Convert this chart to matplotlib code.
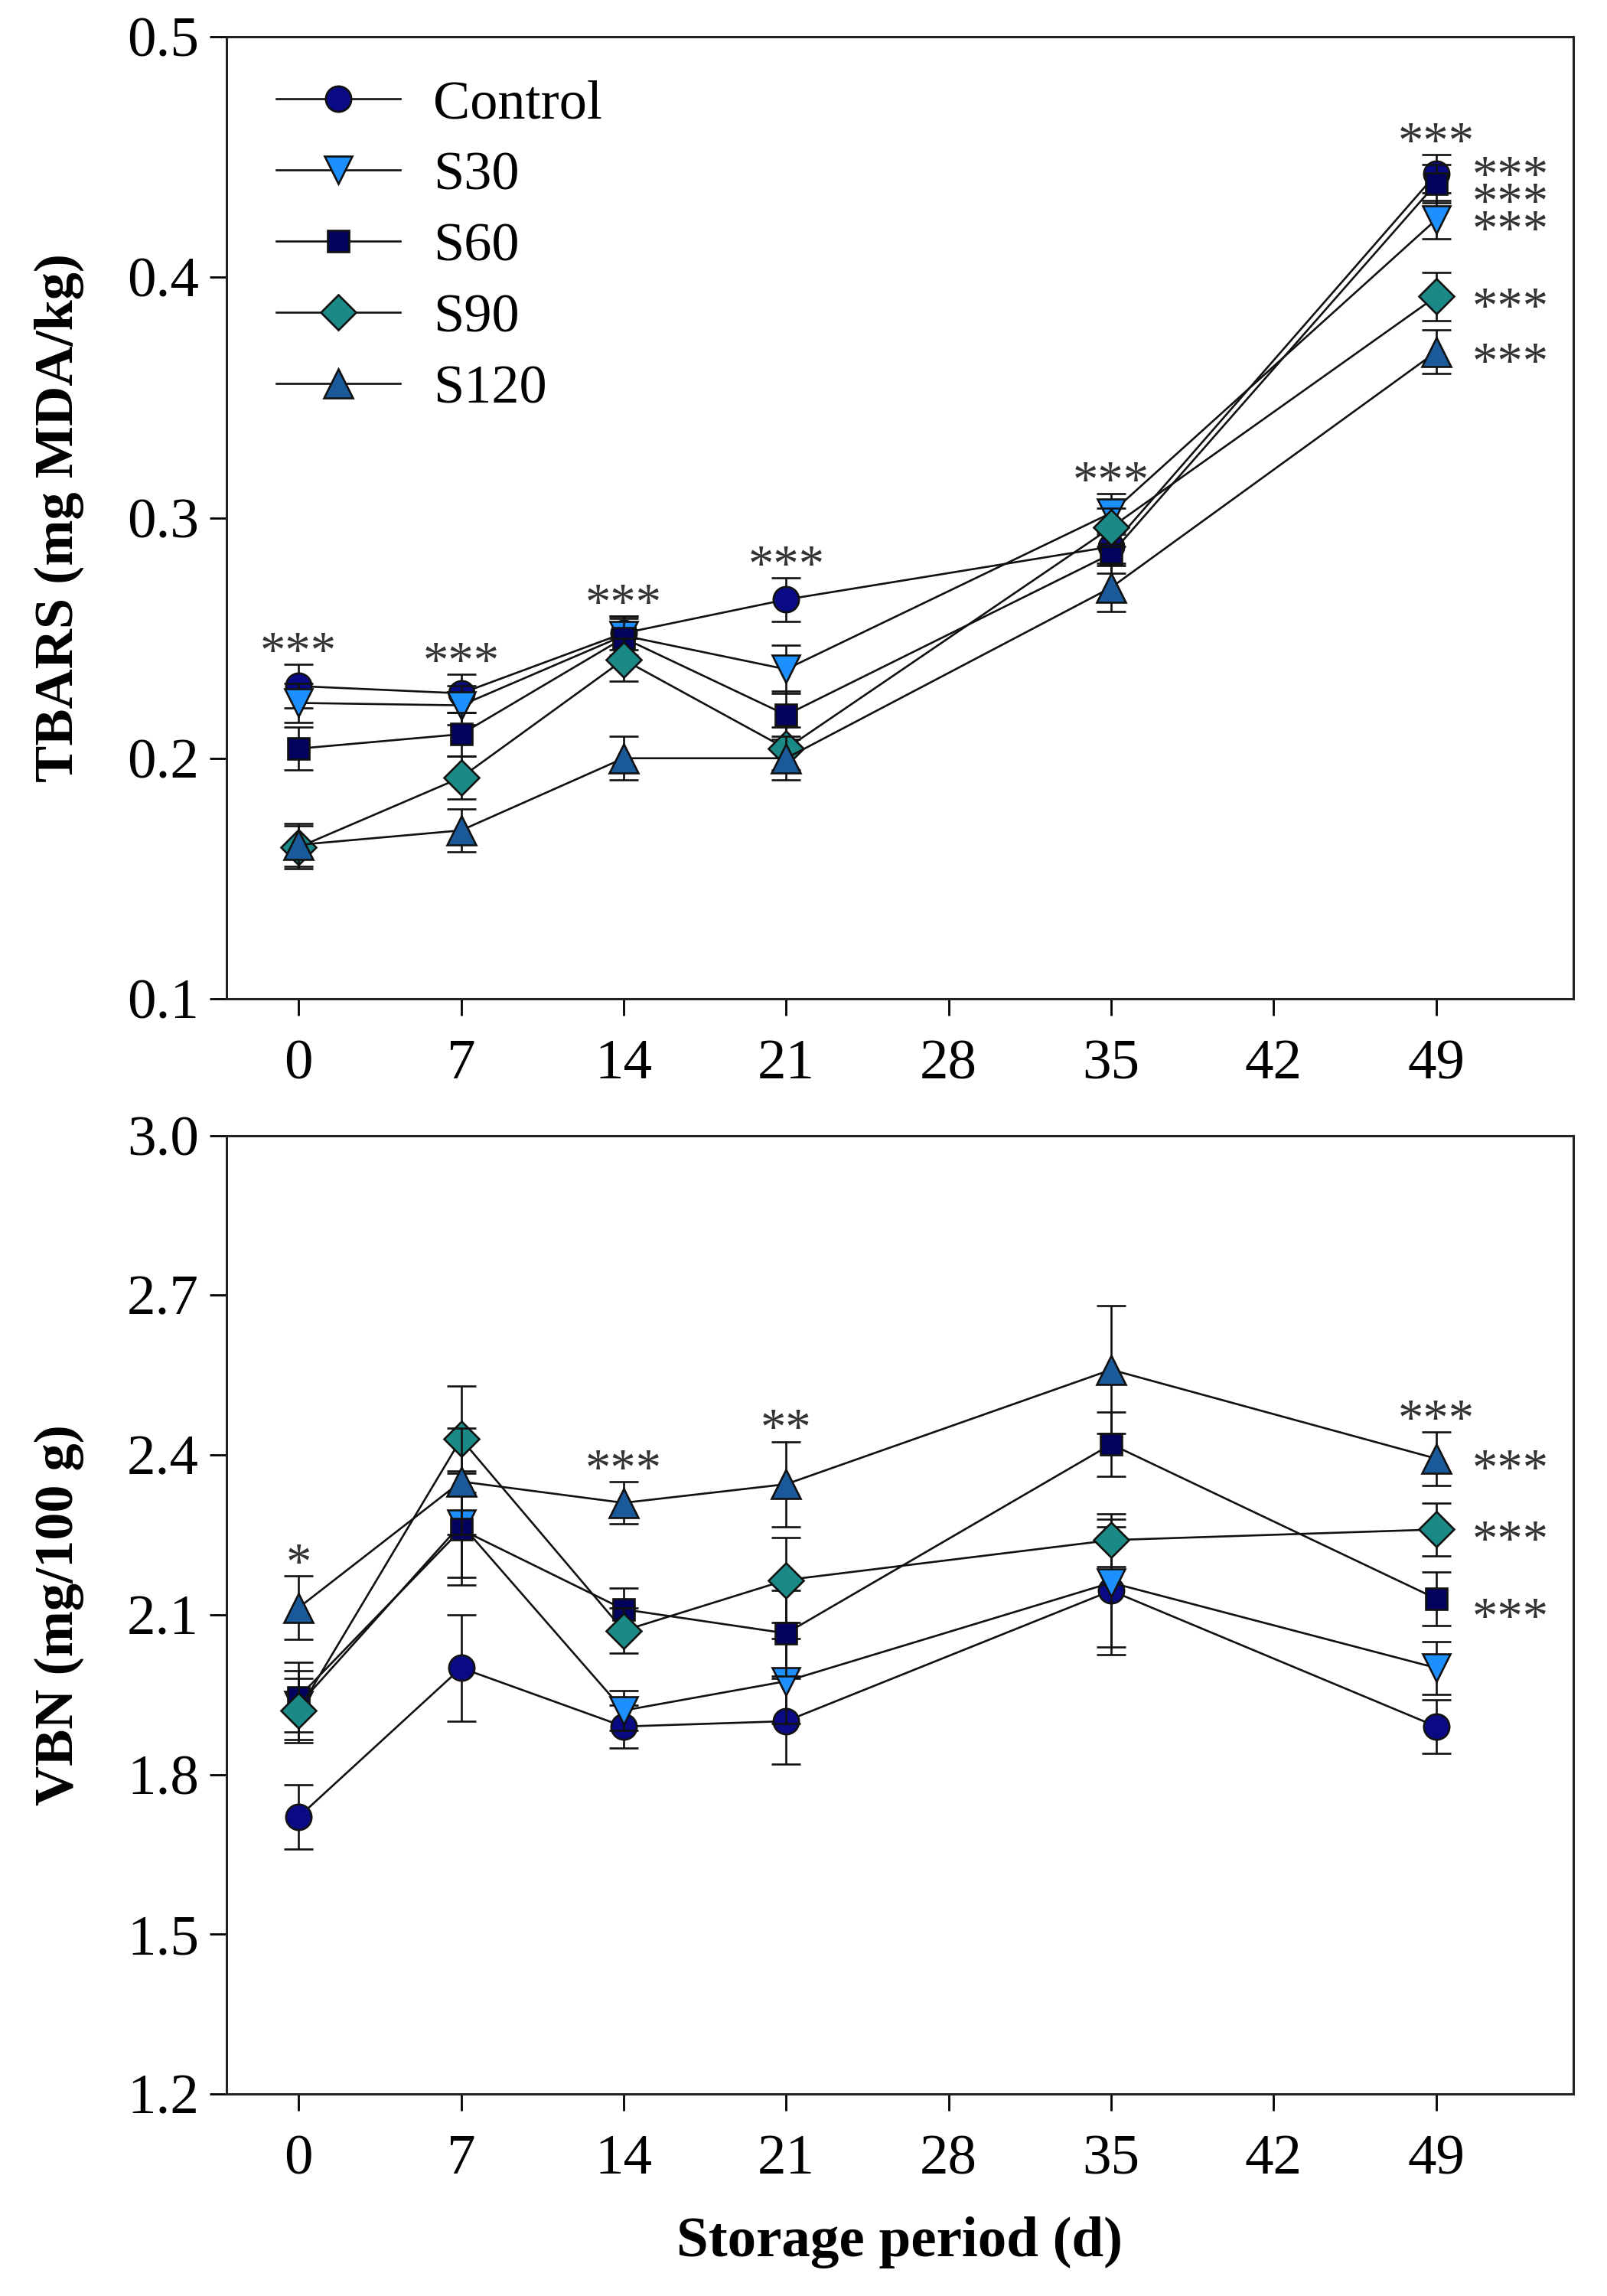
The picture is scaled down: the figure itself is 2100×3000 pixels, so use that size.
import matplotlib
matplotlib.use("Agg")
import matplotlib.pyplot as plt

plt.rcParams["font.family"] = ["Liberation Serif", "DejaVu Serif"]
plt.rcParams["mathtext.default"] = "regular"

# storage days and groups
days = [0, 7, 14, 21, 35, 49]
groups = ["Control", "S30", "S60", "S90", "S120"]

# TBARS (mg MDA/kg), means and error bars
tbars_control = [0.230, 0.227, 0.252, 0.266, 0.288, 0.443]
tbars_s30 = [0.223, 0.222, 0.251, 0.237, 0.302, 0.424]
tbars_s60 = [0.204, 0.210, 0.250, 0.218, 0.285, 0.439]
tbars_s90 = [0.163, 0.192, 0.241, 0.204, 0.296, 0.392]
tbars_s120 = [0.164, 0.170, 0.200, 0.200, 0.271, 0.369]

tbars_control_err = [0.009, 0.008, 0.007, 0.009, 0.008, 0.008]
tbars_s30_err = [0.008, 0.008, 0.008, 0.010, 0.008, 0.008]
tbars_s60_err = [0.009, 0.009, 0.008, 0.010, 0.008, 0.008]
tbars_s90_err = [0.009, 0.009, 0.009, 0.009, 0.008, 0.010]
tbars_s120_err = [0.009, 0.009, 0.009, 0.009, 0.010, 0.009]

# VBN (mg/100 g), means and error bars
vbn_control = [1.72, 2.00, 1.89, 1.90, 2.145, 1.89]
vbn_s30 = [1.93, 2.27, 1.92, 1.975, 2.16, 2.00]
vbn_s60 = [1.945, 2.26, 2.11, 2.065, 2.42, 2.13]
vbn_s90 = [1.92, 2.43, 2.07, 2.165, 2.24, 2.26]
vbn_s120 = [2.113, 2.35, 2.31, 2.345, 2.56, 2.393]

vbn_control_err = [0.06, 0.10, 0.04, 0.08, 0.12, 0.05]
vbn_s30_err = [0.065, 0.10, 0.037, 0.08, 0.12, 0.05]
vbn_s60_err = [0.065, 0.105, 0.04, 0.08, 0.06, 0.05]
vbn_s90_err = [0.06, 0.10, 0.042, 0.08, 0.05, 0.05]
vbn_s120_err = [0.06, 0.10, 0.04, 0.08, 0.12, 0.05]

# significance marks above each day and right of the last day (per group)
tbars_sig_day = ["***", "***", "***", "***", "***", "***"]
tbars_sig_end = ["***", "***", "***", "***", "***"]
vbn_sig_day = ["*", "", "***", "**", "", "***"]
vbn_sig_end = ["", "", "***", "***", "***"]

colors = ["#0a0a84", "#1e8fff", "#03035f", "#1b8a86", "#1a5a9a"]
markers = ["o", "v", "s", "D", "^"]
msizes = [12, 13, 10, 11.5, 13.5]
end_nudge = {"Control": 4, "S60": -4}

TXT = "#333333"


def draw_panel(ax, means, errs, sig_day, sig_end, ylim, yticks, ylabel, fmt):
    handles = []
    for name, m, e, c, mk, ms in zip(groups, means, errs, colors, markers, msizes):
        ax.errorbar(days, m, yerr=e, fmt="none", ecolor="#111111",
                    elinewidth=0.95, capsize=7, capthick=0.95)
        line, = ax.plot(days, m, color="#111111", lw=0.95, marker=mk,
                        markersize=ms, markerfacecolor=c,
                        markeredgecolor="#111111", markeredgewidth=0.95,
                        label=name)
        handles.append(line)

    # stars above each day group
    for i, d in enumerate(days):
        if not sig_day[i]:
            continue
        top = max(m[i] + e[i] for m, e in zip(means, errs))
        ax.annotate(sig_day[i], (d, top), xytext=(0, -1), textcoords="offset points",
                    ha="center", va="baseline", fontsize=24, color=TXT)

    # stars right of the last point of each group
    for name, m, s in zip(groups, means, sig_end):
        if not s:
            continue
        ax.annotate(s, (days[-1], m[-1]), xytext=(17, -12 + end_nudge.get(name, 0)),
                    textcoords="offset points", ha="left", va="baseline",
                    fontsize=24, color=TXT)

    ax.set_xlim(-3.1, 54.9)
    ax.set_ylim(*ylim)
    ax.set_xticks(range(0, 50, 7))
    ax.set_yticks(yticks)
    ax.set_yticklabels([fmt % t for t in yticks])
    ax.tick_params(axis="x", direction="out", length=8, width=1, labelsize=27, pad=11)
    ax.tick_params(axis="y", direction="out", length=8, width=1, labelsize=27, pad=5)
    for sp in ax.spines.values():
        sp.set_linewidth(1.1)
        sp.set_color("#222222")
    ax.set_ylabel(ylabel, fontsize=26, fontweight="bold")
    ax.yaxis.set_label_coords(-0.106, 0.5)
    return handles


fig = plt.figure(figsize=(10.5, 15), dpi=200)
ax1 = fig.add_axes([0.141, 0.565, 0.838, 0.419])
ax2 = fig.add_axes([0.141, 0.088, 0.838, 0.4175])

h = draw_panel(
    ax1,
    [tbars_control, tbars_s30, tbars_s60, tbars_s90, tbars_s120],
    [tbars_control_err, tbars_s30_err, tbars_s60_err, tbars_s90_err, tbars_s120_err],
    tbars_sig_day, tbars_sig_end,
    (0.1, 0.5), [0.1, 0.2, 0.3, 0.4, 0.5], "TBARS (mg MDA/kg)", "%.1f",
)
draw_panel(
    ax2,
    [vbn_control, vbn_s30, vbn_s60, vbn_s90, vbn_s120],
    [vbn_control_err, vbn_s30_err, vbn_s60_err, vbn_s90_err, vbn_s120_err],
    vbn_sig_day, vbn_sig_end,
    (1.2, 3.0), [1.2, 1.5, 1.8, 2.1, 2.4, 2.7, 3.0], "VBN (mg/100 g)", "%.1f",
)

ax1.legend(handles=h, loc="upper left", bbox_to_anchor=(0.012, 0.99), frameon=False,
           fontsize=26, handlelength=2.25, handletextpad=0.6, labelspacing=0.38,
           borderaxespad=0.2)

ax2.set_xlabel("Storage period (d)", fontsize=27, fontweight="bold")
ax2.xaxis.set_label_coords(0.5, -0.128)

fig.savefig("out.png", dpi=200)
